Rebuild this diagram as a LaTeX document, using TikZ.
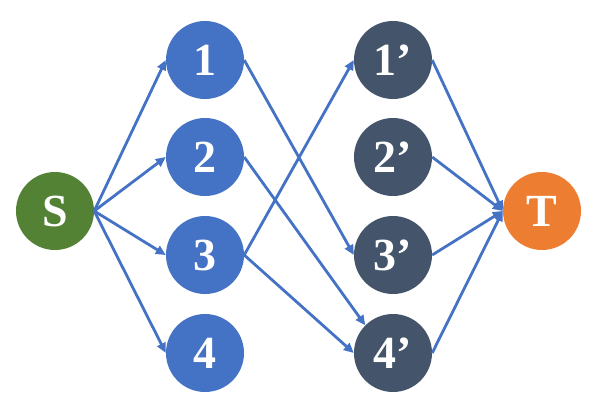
\documentclass[tikz,border=0pt]{standalone}
\usepackage{fontspec}
\setmainfont{Liberation Serif}
\usetikzlibrary{arrows.meta}
\definecolor{cblue}{HTML}{4472C4}
\definecolor{cdark}{HTML}{44546A}
\definecolor{cgreen}{HTML}{548235}
\definecolor{corange}{HTML}{ED7D31}
\tikzset{
  vert/.style={circle, minimum size=78pt, inner sep=0pt, text=white,
    font=\fontsize{46}{46}\selectfont\bfseries},
  edge/.style={draw=cblue, line width=2.8pt, -{Triangle[length=10pt,width=9pt]}}
}
\begin{document}
\begin{tikzpicture}[x=1pt,y=-1pt]
\useasboundingbox (0,0) rectangle (598,413);
\node[vert, fill=cgreen] (S) at (55,211) {S};
\node[vert, fill=corange] (T) at (542,211) {T};
\node[vert, fill=cblue] (a1) at (205,60) {1};
\node[vert, fill=cblue] (a2) at (205,157) {2};
\node[vert, fill=cblue] (a3) at (205,255) {3};
\node[vert, fill=cblue] (a4) at (205,353) {4};
\node[vert, fill=cdark] (b1) at (393,60) {1’};
\node[vert, fill=cdark] (b2) at (393,157) {2’};
\node[vert, fill=cdark] (b3) at (393,255) {3’};
\node[vert, fill=cdark] (b4) at (393,353) {4’};
\foreach \n in {a1,a2,a3,a4} \draw[edge] (S.east) -- (\n.west);
\foreach \n in {b1,b2,b3,b4} \draw[edge] (\n.east) -- (T.west);
\draw[edge] (a1.east) -- (b3.west);
\draw[edge] (a2.east) -- (b4.north west);
\draw[edge] (a3.east) -- (b1.west);
\draw[edge] (a3.east) -- (b4.west);
\end{tikzpicture}
\end{document}
